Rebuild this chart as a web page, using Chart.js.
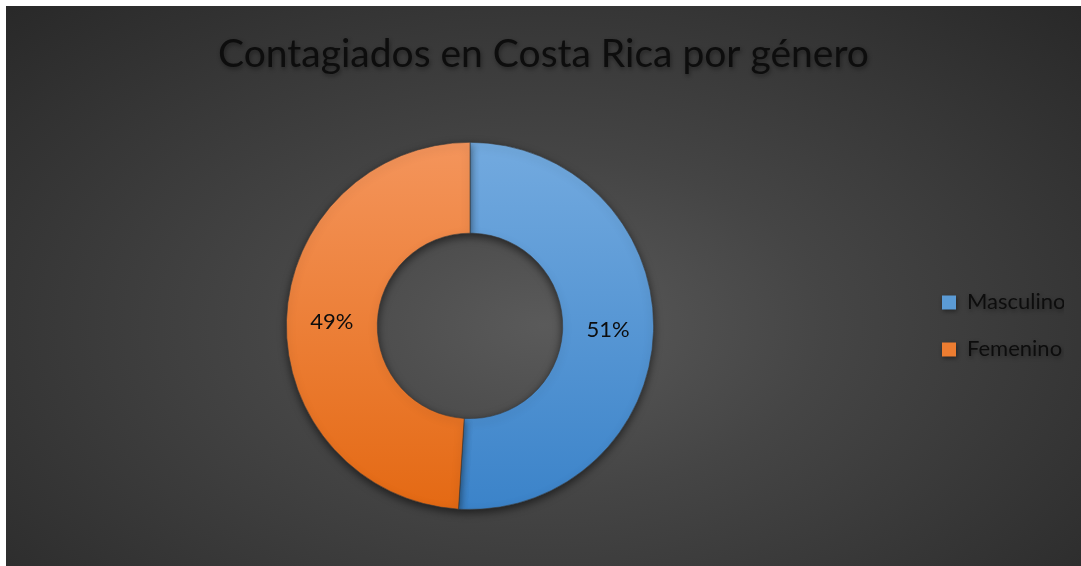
<!DOCTYPE html>
<html>
<head>
<meta charset="utf-8">
<script src="https://cdn.jsdelivr.net/npm/chart.js@4/dist/chart.umd.min.js"></script>
<style>
  html, body { margin: 0; padding: 0; background: #ffffff; }
  #wrap {
    position: absolute; left: 6px; top: 6px; width: 1075px; height: 560px;
    background: radial-gradient(ellipse 75% 85% at 50% 57%, #5a5a5a 0%, #454545 35%, #262626 100%);
  }
</style>
</head>
<body>
<div id="wrap"><canvas id="c" width="1075" height="560"></canvas></div>
<script>
const categories = ["Masculino", "Femenino"];
const percentages = [51, 49];
const chartTitle = "Contagiados en Costa Rica por género";
const legendColors = ["#5b9bd5", "#ed7d31"];
const fontFamily = "Lato, 'Open Sans', sans-serif";

const gradTop = ["#73aadf", "#f4955c"];
const gradBottom = ["#3b83c9", "#e46913"];

function sliceFill(ctx) {
  const chart = ctx.chart;
  const area = chart.chartArea;
  const i = ctx.dataIndex;
  if (!area || i === undefined) return gradTop[i || 0];
  const g = chart.ctx.createLinearGradient(0, area.top, 0, area.bottom);
  g.addColorStop(0, gradTop[i]);
  g.addColorStop(1, gradBottom[i]);
  return g;
}

const shadowPlugin = {
  id: 'shadow',
  beforeDraw(chart) {
    const c = chart.ctx;
    c.save();
    c.shadowColor = 'rgba(0,0,0,0.4)';
    c.shadowBlur = 4;
    c.shadowOffsetX = 1;
    c.shadowOffsetY = 2;
  },
  beforeDatasetsDraw(chart) {
    const c = chart.ctx;
    c.restore();
    c.save();
    c.shadowColor = 'rgba(0,0,0,0.55)';
    c.shadowBlur = 8;
    c.shadowOffsetY = 3;
  },
  afterDatasetsDraw(chart) {
    chart.ctx.restore();
  }
};

const labelPlugin = {
  id: 'pctLabels',
  afterDatasetsDraw(chart) {
    const c = chart.ctx;
    const meta = chart.getDatasetMeta(0);
    c.save();
    c.font = "22px " + fontFamily;
    c.fillStyle = "#0d0d0d";
    c.textAlign = "center";
    c.textBaseline = "middle";
    meta.data.forEach((arc, i) => {
      const p = arc.tooltipPosition();
      c.fillText(percentages[i] + "%", p.x, p.y);
    });
    c.restore();
  }
};

new Chart(document.getElementById('c'), {
  type: 'doughnut',
  data: {
    labels: categories,
    datasets: [{
      data: percentages,
      backgroundColor: sliceFill,
      borderColor: 'rgba(60,60,60,0.6)',
      borderWidth: 1,
      hoverOffset: 0
    }]
  },
  options: {
    responsive: false,
    animation: false,
    cutout: '50.5%',
    layout: { padding: { left: 17, right: 17, top: 0, bottom: 56 } },
    plugins: {
      title: {
        display: true,
        text: chartTitle,
        color: '#0d0d0d',
        font: { family: fontFamily, size: 39, weight: 'normal' },
        padding: { top: 25, bottom: 64 }
      },
      legend: {
        display: true,
        position: 'right',
        fullSize: false,
        maxWidth: 147,
        labels: {
          color: '#0d0d0d',
          font: { family: fontFamily, size: 22 },
          boxWidth: 14,
          boxHeight: 14,
          padding: 25,
          generateLabels() {
            return categories.map((name, i) => ({
              text: name,
              fillStyle: legendColors[i],
              strokeStyle: 'rgba(0,0,0,0)',
              fontColor: '#0d0d0d',
              lineWidth: 0,
              index: i
            }));
          }
        }
      },
      tooltip: { enabled: false }
    }
  },
  plugins: [shadowPlugin, labelPlugin]
});
</script>
</body>
</html>
